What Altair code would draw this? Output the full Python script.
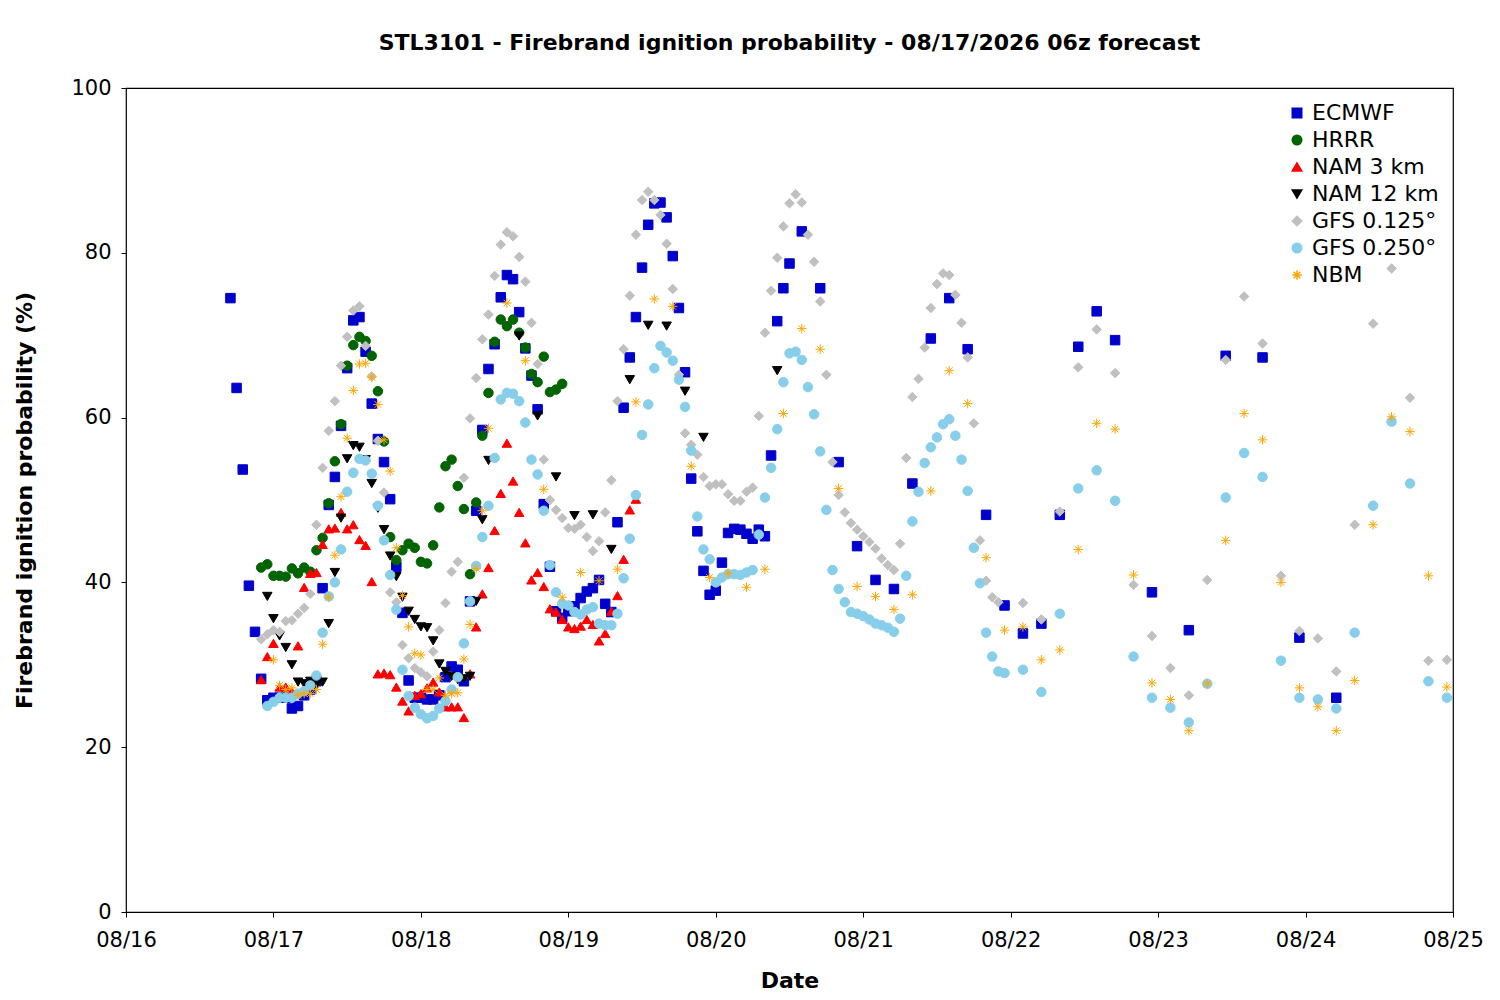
import altair as alt
import pandas as pd

# hours are counted from 08/16 00
ecmwf_h1 = 17
ecmwf_v1 = [74.5, 63.6, 53.7, 39.6, 34, 28.3, 25.7, 26, 26, 26,
            24.7, 25, 26.3, 27, 28, 39.3, 49.4, 52.8, 59, 66,
            71.8, 72.2, 68, 61.7, 57.4, 54.6, 50.1, 41.9, 36.3, 28.1,
            26, 26, 25.8, 25.8, 26.3, 28.5, 29.8, 29.4, 28,
            37.7, 48.7, 58.5, 65.9, 68.9, 74.6, 77.3, 76.8, 72.8, 68.4,
            65.1, 61, 49.5, 41.9, 36.5, 35.7, 36.5, 37.1, 38.1, 38.9,
            39.3, 40.3, 37.4, 36.4,
            47.3, 61.2, 67.3, 72.2, 78.2, 83.4, 86, 86.1, 84.3, 79.6,
            73.3, 65.5, 52.6, 46.2, 41.4, 38.5, 39, 42.4, 46, 46.5,
            46.4, 45.9, 45.3, 46.4, 45.6, 55.4, 71.7, 75.7, 78.7]
ecmwf_h2 = [110, 113, 116, 119, 122, 125, 128, 131, 134, 137, 140, 143, 146, 149,
            152, 155, 158, 161, 167, 173, 179, 185, 191, 197]
ecmwf_v2 = [82.6, 75.7, 54.6, 44.4, 40.3, 39.2, 52, 69.6, 74.5, 68.3, 48.2, 37.2,
            33.8, 35, 48.2, 68.6, 72.9, 69.4, 38.8, 34.2, 67.5, 67.3, 33.3, 26]

hrrr_h1 = 22
hrrr_v = [41.8, 42.2, 40.8, 40.8, 40.7, 41.7, 41.1, 41.8, 41.3, 43.9,
          45.4, 49.6, 54.7, 59.2, 66.3, 68.8, 69.8, 69.3, 67.5, 63.2,
          57.1, 45.5, 42.7, 43.9, 44.7, 44.2, 42.5, 42.3, 44.5, 49.1,
          54.1, 54.9, 51.7, 48.9, 41, 49.7, 57.8, 63, 69.2, 71.9,
          71.1, 71.9, 70.3, 68.5, 65.3, 64.3, 67.4, 63.1, 63.4, 64.1]

nam3_h1 = 22
nam3_v = [28.2, 31, 32.6, 27.3, 27.3, 26.8, 32.3, 39.4, 41.1, 41.2,
          44.6, 46.5, 46.6, 48.5, 46.5, 47, 45.2, 44.5, 40.1, 28.9,
          29, 28.8, 27.3, 25.6, 24.4, 26.3, 26.5, 27.2, 27.9, 26.7,
          24.9, 24.9, 24.9, 23.6, 28.9, 34.6, 38.6, 41.8, 46.3, 50.8,
          56.9, 52.3, 48.5, 44.8, 40.3, 41.2, 39.5, 36.8, 36.4, 35.5,
          34.6, 34.4, 34.7, 35.5, 34.9, 32.9, 33.8, 36.5, 38.4, 42.8,
          48.8, 50.1]

nam12_h1 = 23
nam12_v1 = [38.3, 35.6, 33.5, 32.1, 30, 27.9, 27.7, 28, 27.6, 27.9,
            35, 41.2, 47.8, 55, 56.6, 56.4, 54.9, 52, 49, 46.4,
            43.2, 40.7, 38.2, 36.5, 35.5, 34.6, 34.5, 32.9, 30.1, 29.2,
            28.6, 28.2, 28.3, 28.6, 37.7, 47.6, 54.8]
nam12_h2 = [64, 67, 70, 73, 76, 79, 82, 85, 88, 91, 94, 106]
nam12_v2 = [69.9, 60.2, 52.8, 48.1, 48.2, 44, 64.6, 71.2, 71.1, 63.2, 57.6, 65.7]

gfs125_h1 = 22
gfs125_v1 = [33.1, 33.7, 34.2, 34, 35.3, 35.4, 36.2, 36.9, 38.6,
             47, 53.9, 58.4, 62, 66.3, 69.8, 73, 73.5, 68.7, 65,
             57.2, 50.9, 38.8, 37.6, 32.4, 30.8, 29.6, 29.1, 28.6, 31.6,
             34.2, 37.5, 41.3, 42.5, 52.7, 59.9, 64.8, 69.5, 72.5, 77.2,
             81, 82.5, 82, 79.5, 76.5, 71.5, 66.5,
             54.9, 50, 48.8, 47.8, 46.6, 46.5, 47, 45.5, 43.8, 45, 48.5, 52.4,
             62, 68.3, 74.8, 82.2, 86.4, 87.4, 86.4, 84.6, 81.1, 75.6, 65.2,
             58.1, 56.7, 55.5, 52.8, 51.7, 51.9, 51.9, 50.7, 49.9, 49.9, 51, 51.5,
             60.2, 70.3, 75.4, 79.4, 83.2, 86, 87.1, 86.1, 82.2, 78.9, 74.1, 65.2,
             54.6, 50.6, 48.5, 47.2, 46.4, 45.6, 44.9, 44.1, 42.9, 42.1, 41.5,
             44.7, 55.1, 62.5, 64.7, 68.5, 73.3, 76.2, 77.5, 77.3, 74.9, 71.5,
             67.3, 59.3, 45.1, 40.2, 38.2, 37.6]
gfs125_h2 = 146
gfs125_v2 = [37.5, 35.5, 48.6, 66.1, 70.7, 65.4, 39.7, 33.5, 29.6, 26.3, 40.3, 67,
             74.7, 69, 40.8, 34.1, 33.2, 29.2, 47, 71.4, 78.1, 62.4, 30.5, 30.6]

gfs250_h1 = 23
gfs250_v1 = [25, 25.5, 26, 26, 26, 26.5, 26.8, 27.5, 28.7, 33.9,
             38.3, 40, 44, 51, 53.3, 55, 54.8, 53.2, 49.3, 45.1,
             40.9, 36.7, 29.4, 26.2, 24.8, 24, 23.5, 23.8, 24.7, 25.6,
             27, 28.5, 32.6, 37.7, 42, 45.5, 49.3, 55.1, 62.2, 63,
             62.9, 62, 59.4, 54.9, 53.1, 48.7, 42.1, 38.8, 37.4, 37.2,
             36.4, 36.1, 36.7, 37, 35, 34.8, 34.8, 36.2, 40.5, 45.3,
             50.6, 57.9, 61.6, 66, 68.7, 67.9, 66.9, 64.6, 61.3, 56,
             48, 44, 42.8, 40, 40.6, 41, 41, 40.9,
             41.2, 41.5, 45.8, 50.3, 53.9, 58.6, 64.3, 67.8, 68,
             67, 63.7, 60.4, 55.9, 48.8, 41.5, 39.2, 37.6, 36.4, 36.2,
             35.9, 35.5, 35, 34.8, 34.5, 34, 35.6, 40.8, 47.4, 51,
             54.5, 56.4, 57.6, 59.2, 59.8, 57.8, 54.9, 51.1, 44.2, 39.9,
             33.9, 31, 29.2, 29]
gfs250_h2 = 146
gfs250_v2 = [29.4, 26.7, 36.2, 51.4, 53.6, 49.9, 31, 26, 24.8, 23, 27.7, 50.3,
             55.7, 52.8, 30.5, 26, 25.8, 24.7, 33.9, 49.3, 59.5, 52, 28, 26]

nbm_h1 = 24
nbm_v1 = [30.6, 27.5, 27, 27.2, 26.3, 26.5, 26.5, 27, 32.5, 38.2,
          43.3, 50.4, 57.5, 63.3, 66.5, 66.6, 64.9, 61.6, 57.3, 53.5,
          44.2, 38.4, 34.6, 31.4, 31.2, 27, 27, 28.4, 26.3, 26.5,
          26.6, 30.7, 34.9, 41.7, 48.7, 58.7]
nbm_h2 = 62
nbm_v2 = [73.9, 66.9, 51.3, 38.2, 41.2, 40.2, 41.6, 61.9, 74.4, 73.5, 54.1, 40.6,
          41.1, 39.4, 41.6, 60.5, 70.8, 68.3, 51.4, 39.5, 38.3, 36.7, 38.5, 51.1,
          65.7, 61.7, 43, 34.2, 34.6, 30.6, 31.8, 44, 59.3, 58.6, 40.9, 27.8,
          25.8, 22, 27.7, 45.1, 60.5, 57.3, 40, 27.2, 24.9, 22, 28.1, 47,
          60.1, 58.3, 40.8, 27.3]

models = ["ECMWF", "HRRR", "NAM 3 km", "NAM 12 km", "GFS 0.125°", "GFS 0.250°", "NBM"]
colors = ["#0000cc", "#006400", "#ff0000", "#000000", "#c0c0c0", "#87ceeb", "#ffa500"]
star = "M-1,0L1,0M0,-1L0,1M-0.7,-0.7L0.7,0.7M-0.7,0.7L0.7,-0.7"
shapes = ["square", "circle", "triangle-up", "triangle-down", "diamond", "circle", star]


def hourly(start, vals):
    return list(range(start, start + len(vals))), vals


def every3(start, vals):
    return list(range(start, start + 3 * len(vals), 3)), vals


parts = [
    ("ECMWF", hourly(ecmwf_h1, ecmwf_v1)), ("ECMWF", (ecmwf_h2, ecmwf_v2)),
    ("HRRR", hourly(hrrr_h1, hrrr_v)),
    ("NAM 3 km", hourly(nam3_h1, nam3_v)),
    ("NAM 12 km", hourly(nam12_h1, nam12_v1)), ("NAM 12 km", (nam12_h2, nam12_v2)),
    ("GFS 0.125°", hourly(gfs125_h1, gfs125_v1)), ("GFS 0.125°", every3(gfs125_h2, gfs125_v2)),
    ("GFS 0.250°", hourly(gfs250_h1, gfs250_v1)), ("GFS 0.250°", every3(gfs250_h2, gfs250_v2)),
    ("NBM", hourly(nbm_h1, nbm_v1)), ("NBM", every3(nbm_h2, nbm_v2)),
]
rows = []
t0 = pd.Timestamp("2026-08-16")
for name, (hs, vs) in parts:
    for h, v in zip(hs, vs):
        rows.append({"model": name, "time": (t0 + pd.Timedelta(hours=h)).isoformat(), "prob": v})
df = pd.DataFrame(rows)

font = "DejaVu Sans"
leg = alt.Legend(title=None, orient="top-right", labelFontSize=22, labelFont=font,
                 symbolSize=90, rowPadding=5, labelColor="black", offset=14)

chart = alt.Chart(df).mark_point(filled=True, size=90, strokeWidth=1, opacity=1).encode(
    x=alt.X("time:T", title="Date",
            scale=alt.Scale(domain=["2026-08-16T00:00:00", "2026-08-25T00:00:00"]),
            axis=alt.Axis(format="%m/%d", tickCount={"interval": "day", "step": 1},
                          grid=False, labelFontSize=21, titleFontSize=22, titleFontWeight="bold",
                          labelFlush=False, domain=False, tickColor="black", labelColor="black",
                          labelPadding=12, titlePadding=20)),
    y=alt.Y("prob:Q", title="Firebrand ignition probability (%)",
            scale=alt.Scale(domain=[0, 100]),
            axis=alt.Axis(values=[0, 20, 40, 60, 80, 100], grid=False, labelFontSize=21,
                          titleFontSize=22, titleFontWeight="bold", domain=False,
                          tickColor="black", labelColor="black", labelPadding=10,
                          titlePadding=34)),
    fill=alt.Fill("model:N", scale=alt.Scale(domain=models, range=colors), legend=leg),
    stroke=alt.Stroke("model:N", scale=alt.Scale(domain=models, range=colors), legend=leg),
    shape=alt.Shape("model:N", scale=alt.Scale(domain=models, range=shapes), legend=leg),
).properties(
    width=1327, height=824,
    padding={"left": 5, "top": 24, "right": 5, "bottom": 5},
    title=alt.TitleParams("STL3101 - Firebrand ignition probability - 08/17/2026 06z forecast",
                          fontSize=22, fontWeight="bold", font=font, color="black", offset=22)
).configure_view(stroke="black", strokeWidth=1.2).configure_axis(
    labelFont=font, titleFont=font
)

chart.save("out.html", embed_options={"renderer": "svg", "actions": False})
